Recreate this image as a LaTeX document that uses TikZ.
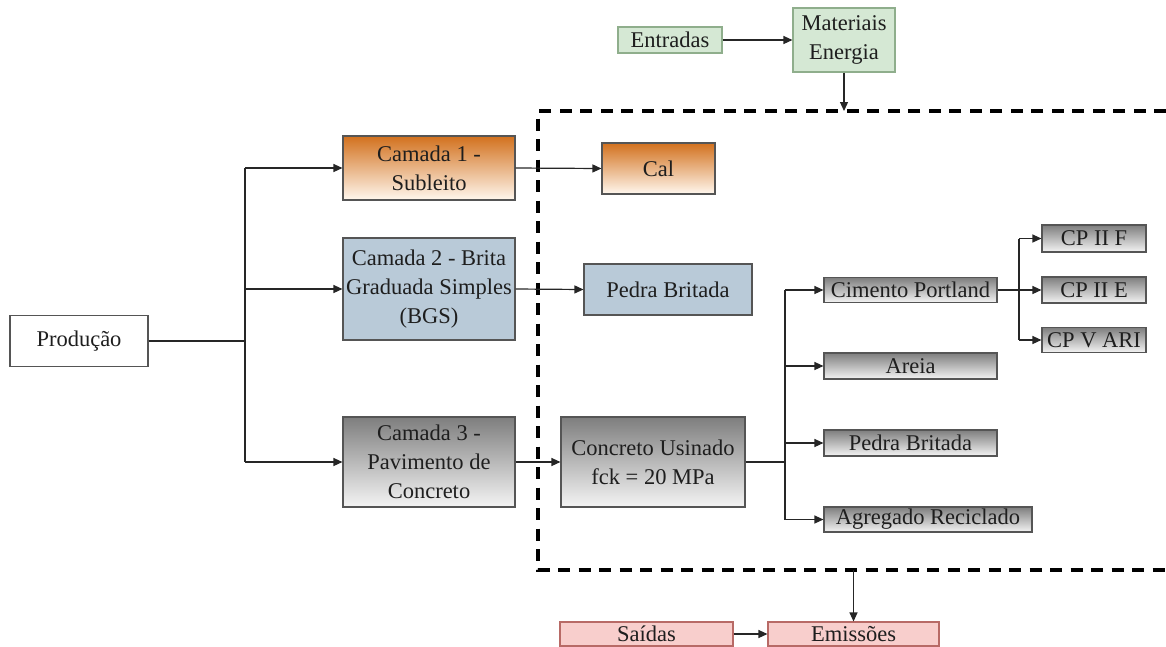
\documentclass[tikz,border=0pt]{standalone}
\usepackage{fontspec}
\setmainfont{Liberation Serif}
\newfontfamily\labelfont{Liberation Serif}
\usetikzlibrary{arrows.meta}

\definecolor{boxline}{HTML}{555555}
\definecolor{txt}{HTML}{1E1E1E}
\definecolor{orangetop}{HTML}{D2711E}
\definecolor{orangebot}{HTML}{FFF7EE}
\definecolor{bluefill}{HTML}{B9CAD8}
\definecolor{graytop}{HTML}{7E7E7E}
\definecolor{graybot}{HTML}{F4F4F4}
\definecolor{greenfill}{HTML}{D5E8D4}
\definecolor{greenline}{HTML}{8FAE8C}
\definecolor{pinkfill}{HTML}{F8CECC}
\definecolor{pinkline}{HTML}{B86A66}

\begin{document}
\begin{tikzpicture}[x=1pt,y=-1pt,
  font=\labelfont\fontsize{22.5}{29}\selectfont,
  box/.style={draw=boxline,line width=1.1pt,text=txt,align=center,
    inner sep=0pt,minimum width=#1},
  plain/.style={box=#1,fill=white},
  orangebox/.style={box=#1,top color=orangetop,bottom color=orangebot},
  bluebox/.style={box=#1,fill=bluefill},
  graybox/.style={box=#1,top color=graytop,bottom color=graybot},
  greenbox/.style={box=#1,draw=greenline,fill=greenfill},
  pinkbox/.style={box=#1,draw=pinkline,fill=pinkfill},
  link/.style={line width=1.2pt,draw=black!85},
  arr/.style={link,-{Triangle[length=9pt,width=8pt]}},
  boundary/.style={line width=3.6pt,dash pattern=on 12pt off 8.5pt}]

\useasboundingbox (0,0) rectangle (1166,646);

% system boundary (open to the right)
\draw[boundary] (1166,111) -- (538,111) -- (538,570) -- (1166,570);

% production layers
\node[plain=138pt,minimum height=51pt] (prod) at (79,341) {Produção};
\node[orangebox=172pt,minimum height=64pt] (c1) at (429,168) {Camada 1 -\\Subleito};
\node[bluebox=172pt,minimum height=102pt] (c2) at (429,289) {Camada 2 - Brita\\Graduada Simples\\(BGS)};
\node[graybox=172pt,minimum height=90pt] (c3) at (429,462) {Camada 3 -\\Pavimento de\\Concreto};

% materials
\node[orangebox=113pt,minimum height=51pt] (cal) at (658.5,168.5) {Cal};
\node[bluebox=168pt,minimum height=51pt] (pb1) at (668,289.5) {Pedra Britada};
\node[graybox=184pt,minimum height=90pt] (conc) at (653,462) {Concreto Usinado\\fck = 20 MPa};

\node[graybox=173pt,minimum height=25pt] (cim) at (910.5,290) {Cimento Portland};
\node[graybox=173pt,minimum height=26pt] (are) at (910.5,366) {Areia};
\node[graybox=173pt,minimum height=26pt] (pb2) at (910.5,443) {Pedra Britada};
\node[graybox=208pt,minimum height=25pt] (agr) at (928,519.5) {Agregado Reciclado};

\node[graybox=104pt,minimum height=27pt] (cpf) at (1094,238.5) {CP II F};
\node[graybox=104pt,minimum height=26pt] (cpe) at (1094,290) {CP II E};
\node[graybox=104pt,minimum height=25pt] (cpv) at (1094,340) {CP V ARI};

% inputs and outputs
\node[greenbox=104pt,minimum height=26pt] (ent) at (670,40) {Entradas};
\node[greenbox=102pt,minimum height=64pt] (mat) at (844,40) {Materiais\\Energia};
\node[pinkbox=173pt,minimum height=24pt] (sai) at (646.5,634) {Saídas};
\node[pinkbox=171pt,minimum height=24pt] (emi) at (853.5,634) {Emissões};

\coordinate (inb) at (844,111);
\coordinate (outb) at (853.5,570);
\coordinate (j1) at (245,341);
\coordinate (j2) at (785,462);
\coordinate (j3) at (1019,290);

% connectors
\draw[link] (prod.east) -- (j1);
\draw[link] (j1 |- c1.west) -- (j1 |- c3.west);
\draw[arr] (j1 |- c1.west) -- (c1.west);
\draw[arr] (j1 |- c2.west) -- (c2.west);
\draw[arr] (j1 |- c3.west) -- (c3.west);

\draw[arr] (c1.east) -- (cal.west);
\draw[arr] (c2.east) -- (pb1.west);
\draw[arr] (c3.east) -- (conc.west);

\draw[link] (conc.east) -- (j2);
\draw[link] (j2 |- cim.west) -- (j2 |- agr.west);
\draw[arr] (j2 |- cim.west) -- (cim.west);
\draw[arr] (j2 |- are.west) -- (are.west);
\draw[arr] (j2 |- pb2.west) -- (pb2.west);
\draw[arr] (j2 |- agr.west) -- (agr.west);

\draw[arr] (cim.east) -- (cpe.west);
\draw[link] (j3 |- cpf.west) -- (j3 |- cpv.west);
\draw[arr] (j3 |- cpf.west) -- (cpf.west);
\draw[arr] (j3 |- cpv.west) -- (cpv.west);

\draw[arr] (ent.east) -- (mat.west);
\draw[arr] (mat.south) -- (inb);
\draw[arr] (outb) -- (emi.north);
\draw[arr] (sai.east) -- (emi.west);
\end{tikzpicture}
\end{document}
